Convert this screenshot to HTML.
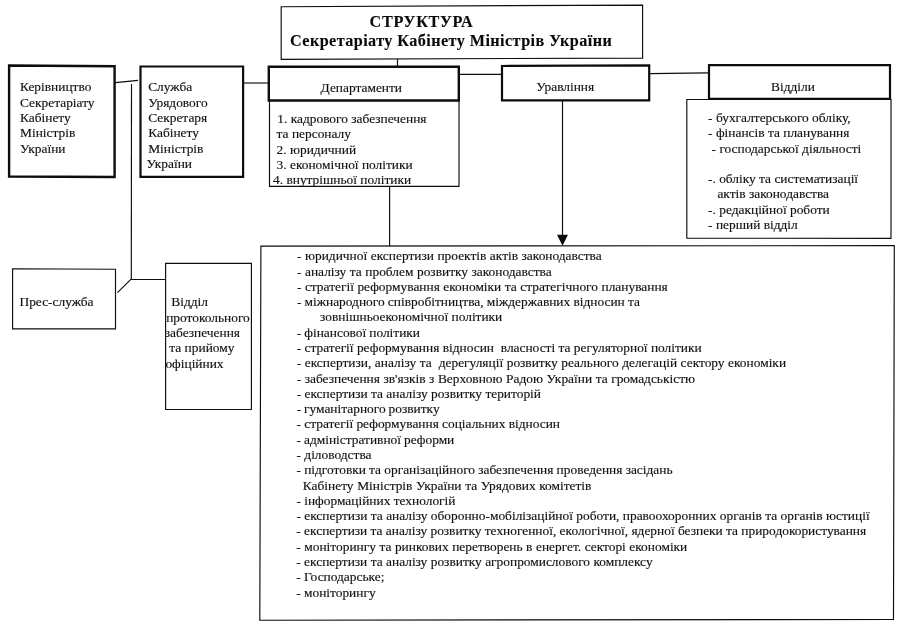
<!DOCTYPE html>
<html lang="uk"><head><meta charset="utf-8"><title>Структура Секретаріату Кабінету Міністрів України</title>
<style>
html,body{margin:0;padding:0;background:#fff;}
body{width:900px;height:627px;position:relative;overflow:hidden;font-family:"Liberation Serif",serif;}
#pg{position:absolute;left:0;top:0;width:900px;height:627px;will-change:transform;filter:blur(0.4px);}
.t{position:absolute;white-space:pre;font-family:"Liberation Serif",serif;font-size:13.4px;line-height:15.28px;color:#111;-webkit-text-stroke:0.15px #111;}
.h{font-weight:bold;font-size:16.2px;line-height:20px;color:#0a0a0a;-webkit-text-stroke:0.12px #0a0a0a;}
</style></head><body><div id="pg">
<svg width="900" height="627" viewBox="0 0 900 627" style="position:absolute;left:0;top:0">
<g stroke="#0d0d0d" fill="none" stroke-linejoin="miter">
<polygon points="281.2,6.7 642.6,5.1 642.6,58.1 281.2,59.3" stroke-width="1.15"/>
<polygon points="9.1,65.5 114.6,66.2 114.6,177.0 9.1,176.5" stroke-width="2.4"/>
<polygon points="140.5,66.5 243.1,66.5 243.1,176.8 140.5,176.8" stroke-width="2.2"/>
<polyline points="269.5,100 269.5,186.4 459,186.4 459,100" stroke-width="1.15"/>
<polygon points="268.8,66.7 458.8,66.7 458.8,100.5 268.8,100.5" stroke-width="2.4"/>
<polygon points="502,66 649.2,65.3 649.2,100.4 502,100.4" stroke-width="2.2"/>
<polygon points="686.8,99.5 891,99.5 891,238.3 686.8,238.2" stroke-width="1.15"/>
<polygon points="709,65.1 890,65.1 890,98.8 709,98.8" stroke-width="2.2"/>
<polygon points="12.6,268.8 115.5,269.3 115.5,328.8 12.6,328.8" stroke-width="1.15"/>
<polygon points="165.6,263.4 251.4,263.4 251.4,409.5 165.6,409.5" stroke-width="1.15"/>
<polygon points="260.9,246.1 894.3,245.7 893.5,619.4 259.8,620.2" stroke-width="1.15"/>
<polyline points="115.5,82.6 138,80.4" stroke-width="1.15"/>
<polyline points="131.5,84 131.3,279.5" stroke-width="1.15"/>
<polyline points="131.2,279.5 165.6,279.5" stroke-width="1.15"/>
<polyline points="131.4,278.8 117.4,292.6" stroke-width="1.15"/>
<polyline points="244,83 268,83" stroke-width="1.15"/>
<polyline points="397.5,59 397.5,66" stroke-width="1.15"/>
<polyline points="460,74.3 501,74.3" stroke-width="1.15"/>
<polyline points="650,73.6 708,72.9" stroke-width="1.15"/>
<polyline points="389.6,186.4 389.6,246" stroke-width="1.15"/>
<polyline points="562.5,101 562.5,236" stroke-width="1.15"/>
</g>
<path d="M557 234.7 L568 234.7 L562.5 245.8 Z" fill="#0a0a0a"/>
</svg>
<div class="t" style="left:20.00px;top:79.44px;">Керівництво</div>
<div class="t" style="left:20.00px;top:94.72px;">Секретаріату</div>
<div class="t" style="left:20.00px;top:110.00px;">Кабінету</div>
<div class="t" style="left:20.00px;top:125.28px;">Міністрів</div>
<div class="t" style="left:20.00px;top:140.56px;">України</div>
<div class="t" style="left:148.20px;top:79.44px;">Служба</div>
<div class="t" style="left:148.20px;top:94.72px;">Урядового</div>
<div class="t" style="left:148.20px;top:110.00px;">Секретаря</div>
<div class="t" style="left:148.20px;top:125.28px;">Кабінету</div>
<div class="t" style="left:148.20px;top:140.56px;">Міністрів</div>
<div class="t" style="left:146.50px;top:155.84px;">України</div>
<div class="t" style="left:320.60px;top:80.44px;">Департаменти</div>
<div class="t" style="left:277.30px;top:111.14px;">1. кадрового забезпечення</div>
<div class="t" style="left:276.60px;top:126.42px;">та персоналу</div>
<div class="t" style="left:276.60px;top:141.70px;">2. юридичний</div>
<div class="t" style="left:276.60px;top:156.98px;">3. економічної політики</div>
<div class="t" style="left:273.00px;top:172.26px;">4. внутрішньої політики</div>
<div class="t" style="left:536.20px;top:79.14px;">Уравління</div>
<div class="t" style="left:771.00px;top:78.84px;">Відділи</div>
<div class="t" style="left:708.10px;top:109.94px;">- бухгалтерського обліку,</div>
<div class="t" style="left:708.10px;top:125.22px;">- фінансів та планування</div>
<div class="t" style="left:711.60px;top:140.50px;">- господарської діяльності</div>
<div class="t" style="left:708.00px;top:171.06px;">-. обліку та систематизації</div>
<div class="t" style="left:717.40px;top:186.34px;">актів законодавства</div>
<div class="t" style="left:708.10px;top:201.62px;">-. редакційної роботи</div>
<div class="t" style="left:708.10px;top:216.90px;">- перший відділ</div>
<div class="t" style="left:19.50px;top:293.84px;">Прес-служба</div>
<div class="t" style="left:171.30px;top:294.44px;">Відділ</div>
<div class="t" style="left:166.20px;top:309.72px;">протокольного</div>
<div class="t" style="left:164.80px;top:325.00px;">забезпечення</div>
<div class="t" style="left:169.30px;top:340.28px;">та прийому</div>
<div class="t" style="left:165.40px;top:355.56px;">офіційних</div>
<div class="t" style="left:297.00px;top:248.34px;word-spacing:0.20px;">- юридичної експертизи проектів актів законодавства</div>
<div class="t" style="left:296.96px;top:263.62px;word-spacing:0.20px;">- аналізу та проблем розвитку законодавства</div>
<div class="t" style="left:296.93px;top:278.90px;word-spacing:0.17px;">- стратегії реформування економіки та стратегічного планування</div>
<div class="t" style="left:296.89px;top:294.18px;word-spacing:-0.13px;">- міжнародного співробітництва, міждержавних відносин та</div>
<div class="t" style="left:320.05px;top:309.46px;word-spacing:-0.02px;">зовнішньоекономічної політики</div>
<div class="t" style="left:296.82px;top:324.74px;word-spacing:-0.35px;">- фінансової політики</div>
<div class="t" style="left:296.78px;top:340.02px;word-spacing:0.01px;">- стратегії реформування відносин  власності та регуляторної політики</div>
<div class="t" style="left:296.75px;top:355.30px;word-spacing:0.20px;">- експертизи, аналізу та  дерегуляції розвитку реального делегацій сектору економіки</div>
<div class="t" style="left:296.71px;top:370.58px;word-spacing:0.21px;">- забезпечення зв'язків з Верховною Радою України та громадськістю</div>
<div class="t" style="left:296.67px;top:385.86px;word-spacing:0.02px;">- експертизи та аналізу розвитку територій</div>
<div class="t" style="left:296.64px;top:401.14px;word-spacing:-0.40px;">- гуманітарного розвитку</div>
<div class="t" style="left:296.60px;top:416.42px;word-spacing:-0.15px;">- стратегії реформування соціальних відносин</div>
<div class="t" style="left:296.56px;top:431.70px;word-spacing:-0.37px;">- адміністративної реформи</div>
<div class="t" style="left:296.53px;top:446.98px;">- діловодства</div>
<div class="t" style="left:296.49px;top:462.26px;word-spacing:-0.14px;">- підготовки та організаційного забезпечення проведення засідань</div>
<div class="t" style="left:302.85px;top:477.54px;word-spacing:0.28px;">Кабінету Міністрів України та Урядових комітетів</div>
<div class="t" style="left:296.42px;top:492.82px;">- інформаційних технологій</div>
<div class="t" style="left:296.38px;top:508.10px;word-spacing:0.06px;">- експертизи та аналізу оборонно-мобілізаційної роботи, правоохоронних органів та органів юстиції</div>
<div class="t" style="left:296.35px;top:523.38px;word-spacing:-0.04px;">- експертизи та аналізу розвитку техногенної, екологічної, ядерної безпеки та природокористування</div>
<div class="t" style="left:296.31px;top:538.66px;word-spacing:0.17px;">- моніторингу та ринкових перетворень в енергет. секторі економіки</div>
<div class="t" style="left:296.27px;top:553.94px;word-spacing:0.05px;">- експертизи та аналізу розвитку агропромислового комплексу</div>
<div class="t" style="left:296.24px;top:569.22px;">- Господарське;</div>
<div class="t" style="left:296.20px;top:584.50px;">- моніторингу</div>
<div class="t h" style="left:369.6px;top:11.83px;letter-spacing:0.68px">СТРУКТУРА</div>
<div class="t h" style="left:290px;top:30.63px;letter-spacing:0.42px">Секретаріату Кабінету Міністрів України</div>
</div></body></html>
